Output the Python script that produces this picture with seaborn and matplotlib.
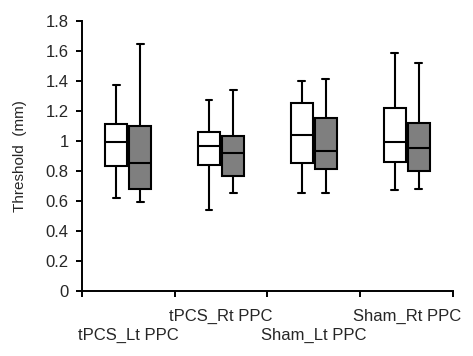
#!/usr/bin/env python3
"""Threshold box plots: tPCS vs Sham, Lt/Rt PPC"""
import pandas as pd, numpy as np
import matplotlib; matplotlib.use('Agg'); import matplotlib.pyplot as plt
import seaborn as sns

groups=['tPCS_Lt PPC','tPCS_Rt PPC','Sham_Lt PPC','Sham_Rt PPC']
conds=['A','B']
# five-number summaries (min, q1, median, q3, max)
white_min=[0.62,0.54,0.65,0.67]
white_q1=[0.83,0.84,0.85,0.86]
white_med=[0.99,0.965,1.035,0.99]
white_q3=[1.11,1.06,1.25,1.22]
white_max=[1.37,1.27,1.40,1.585]
gray_min=[0.59,0.65,0.65,0.675]
gray_q1=[0.68,0.765,0.81,0.795]
gray_med=[0.85,0.915,0.93,0.95]
gray_q3=[1.095,1.03,1.15,1.12]
gray_max=[1.645,1.335,1.41,1.515]
yticks=[0,0.2,0.4,0.6,0.8,1,1.2,1.4,1.6,1.8]
yticklabels=['0','0.2','0.4','0.6','0.8','1','1.2','1.4','1.6','1.8']

def main():
    rows=[]
    for i,g in enumerate(groups):
        for v in [white_min[i],white_q1[i],white_med[i],white_q3[i],white_max[i]]: rows.append((g,'A',v))
        for v in [gray_min[i],gray_q1[i],gray_med[i],gray_q3[i],gray_max[i]]: rows.append((g,'B',v))
    df=pd.DataFrame(rows,columns=['group','cond','value'])
    sns.set_style('ticks')
    plt.rcParams['font.family']=['Liberation Sans','Arial','DejaVu Sans']
    fig=plt.figure(figsize=(4.73,3.56),dpi=100)
    ax=fig.add_axes([0.173,0.1834,0.785,0.7585])
    sns.boxplot(data=df,x='group',y='value',hue='cond',order=groups,hue_order=conds,
                palette={'A':'white','B':'#7f7f7f'},whis=(0,100),width=0.52,gap=0.08,
                linecolor='black',linewidth=1.5,saturation=1,legend=False,ax=ax,capwidths=0.075)
    ax.set_xlim(-0.5,3.5);ax.set_ylim(0,1.8)
    ax.set_yticks(yticks);ax.set_yticklabels(yticklabels,fontsize=12)
    ax.set_xticks([-0.5,0.5,1.5,2.5,3.5]);ax.set_xticklabels([])
    ax.tick_params(axis='both',direction='out',length=4.5,width=1.4,color='black',pad=5)
    for s in ['top','right']: ax.spines[s].set_visible(False)
    for s in ['left','bottom']: ax.spines[s].set_linewidth(1.4);ax.spines[s].set_color('black')
    ax.set_xlabel('');ax.set_ylabel('')
    fig.text(0.043,0.562,'Threshold  (mm)',rotation=90,fontsize=11,ha='center',va='center')
    tr=matplotlib.transforms.blended_transform_factory(ax.transData,ax.transAxes)
    for i,g in enumerate(groups):
        ax.text(i,-0.165 if i%2==0 else -0.095,g,transform=tr,ha='center',va='center',fontsize=12)
    fig.savefig('out.png',dpi=100);plt.close()
if __name__=="__main__":main()
